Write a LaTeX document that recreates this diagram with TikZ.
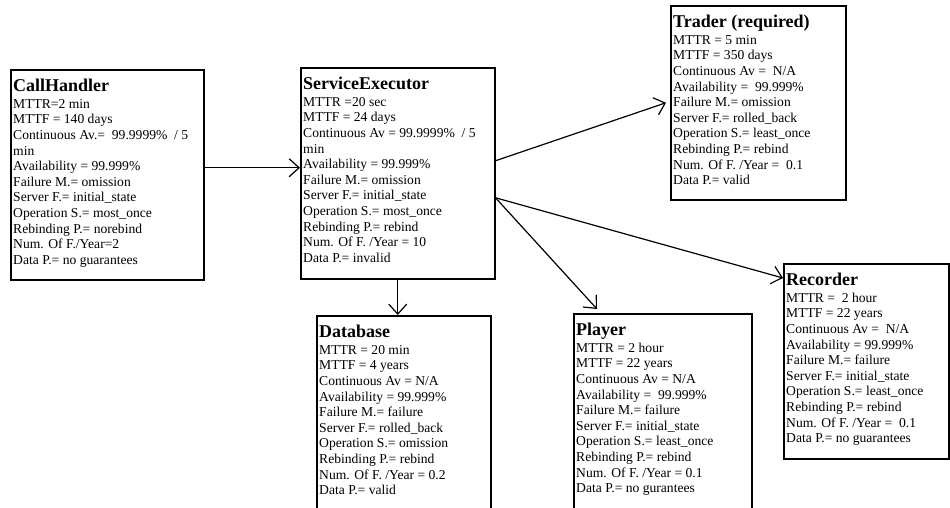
\documentclass[tikz,border=0pt]{standalone}
\usepackage{fontspec}
\setmainfont{Liberation Serif}
\usetikzlibrary{arrows.meta}

\tikzset{
  compbox/.style={draw=black, line width=1.5pt, fill=none, inner sep=0pt, anchor=north west},
  comptext/.style={anchor=north west, inner sep=0pt, align=left,
    font=\fontsize{13.6}{15.6}\selectfont},
  flow/.style={draw=black, line width=1.2pt, -{Straight Barb[length=10pt, width=18pt, line width=1.2pt]}},
}
\newcommand{\comptitle}[1]{{\fontsize{18}{18}\selectfont\bfseries #1}\\[1.5pt]}

\begin{document}
\begin{tikzpicture}[x=1pt, y=-1pt]
\useasboundingbox (0,0) rectangle (950,507);
\clip (0,0) rectangle (950,507);

% component boxes
\node[compbox, minimum width=193pt, minimum height=210pt] (ch)  at (10,69)  {};
\node[compbox, minimum width=194pt, minimum height=211pt] (se)  at (300,67) {};
\node[compbox, minimum width=175pt, minimum height=194pt] (tr)  at (670,5)  {};
\node[compbox, minimum width=174pt, minimum height=205pt] (db)  at (316,315) {};
\node[compbox, minimum width=178pt, minimum height=207pt] (pl)  at (573,313) {};
\node[compbox, minimum width=165pt, minimum height=195pt] (rec) at (783,263) {};

% component descriptions
\node[comptext] (chT) at ([xshift=3pt, yshift=-9.5pt]ch.north west) {%
\comptitle{CallHandler}
MTTR=2 min\\
MTTF = 140 days\\
Continuous Av.=~ 99.9999\%~ / 5\\
min\\
Availability = 99.999\%\\
Failure M.= omission\\
Server F.= initial\_state\\
Operation S.= most\_once\\
Rebinding P.= norebind\\
Num. Of F./Year=2\\
Data P.= no guarantees};

\node[comptext] (seT) at ([xshift=3pt, yshift=-9.5pt]se.north west) {%
\comptitle{ServiceExecutor}
MTTR =20 sec\\
MTTF = 24 days\\
Continuous Av = 99.9999\%~ / 5\\
min\\
Availability = 99.999\%\\
Failure M.= omission\\
Server F.= initial\_state\\
Operation S.= most\_once\\
Rebinding P.= rebind\\
Num. Of F. /Year = 10\\
Data P.= invalid};

\node[comptext] (trT) at ([xshift=3pt, yshift=-9.5pt]tr.north west) {%
\comptitle{Trader (required)}
MTTR = 5 min\\
MTTF = 350 days\\
Continuous Av =~ N/A\\
Availability =~ 99.999\%\\
Failure M.= omission\\
Server F.= rolled\_back\\
Operation S.= least\_once\\
Rebinding P.= rebind\\
Num. Of F. /Year =~ 0.1\\
Data P.= valid};

\node[comptext] (dbT) at ([xshift=3pt, yshift=-9.5pt]db.north west) {%
\comptitle{Database}
MTTR = 20 min\\
MTTF = 4 years\\
Continuous Av = N/A\\
Availability = 99.999\%\\
Failure M.= failure\\
Server F.= rolled\_back\\
Operation S.= omission\\
Rebinding P.= rebind\\
Num. Of F. /Year = 0.2\\
Data P.= valid};

\node[comptext] (plT) at ([xshift=3pt, yshift=-9.5pt]pl.north west) {%
\comptitle{Player}
MTTR = 2 hour\\
MTTF = 22 years\\
Continuous Av = N/A\\
Availability =~ 99.999\%\\
Failure M.= failure\\
Server F.= initial\_state\\
Operation S.= least\_once\\
Rebinding P.= rebind\\
Num. Of F. /Year = 0.1\\
Data P.= no gurantees};

\node[comptext] (recT) at ([xshift=3pt, yshift=-9.5pt]rec.north west) {%
\comptitle{Recorder}
MTTR =~ 2 hour\\
MTTF = 22 years\\
Continuous Av =~ N/A\\
Availability = 99.999\%\\
Failure M.= failure\\
Server F.= initial\_state\\
Operation S.= least\_once\\
Rebinding P.= rebind\\
Num. Of F. /Year =~ 0.1\\
Data P.= no guarantees};

% connectors
\coordinate (chOut) at ([yshift=7pt]ch.east);
\coordinate (seUp) at ([yshift=12.5pt]se.east);
\coordinate (seFork) at ([yshift=-24.5pt]se.east);

\draw[flow] (chOut) -- (chOut -| se.west);
\draw[flow] (se.south) -- (se.south |- db.north);
\draw[flow] (seUp) -- ([xshift=-4pt]tr.west);
\draw[flow] (seFork) -- ([xshift=24pt, yshift=4pt]pl.north west);
\draw[flow] (seFork) -- ([yshift=-15pt]rec.north west);
\end{tikzpicture}
\end{document}
